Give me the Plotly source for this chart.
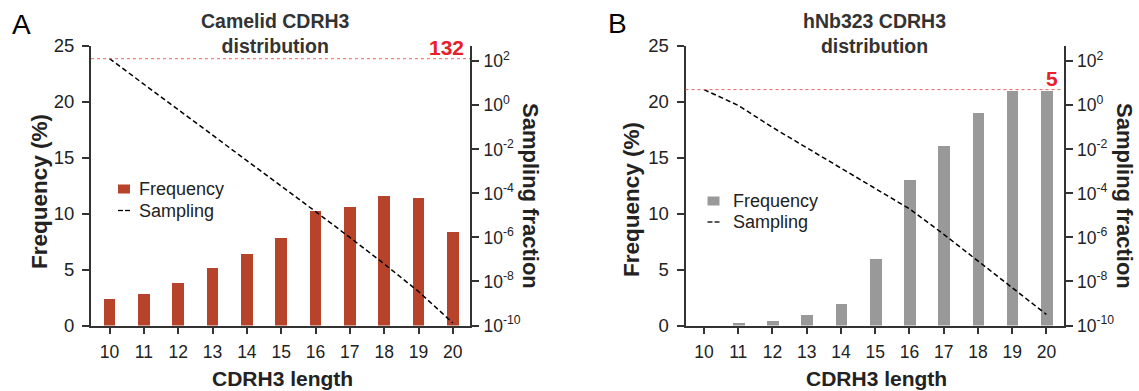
import math
import plotly.graph_objects as go

# ---------------- data ----------------
lengths = [10, 11, 12, 13, 14, 15, 16, 17, 18, 19, 20]

camelid_freq = [2.45, 2.9, 3.85, 5.18, 6.43, 7.9, 10.3, 10.65, 11.65, 11.42, 8.38]
camelid_sampling = [132, 9.3, 0.66, 0.046, 3.2e-3, 2.3e-4, 1.5e-5, 1.0e-6, 6.3e-8, 3.5e-9, 1.3e-10]

hnb_freq = [0.0, 0.27, 0.48, 0.98, 1.99, 5.96, 13.05, 16.05, 19.0, 21.02, 21.0]
hnb_sampling = [5.2, 1.0, 0.10, 0.012, 1.4e-3, 1.8e-4, 2.0e-5, 1.4e-6, 8.5e-8, 5.1e-9, 3.2e-10]

peak_labels = ["132", "5"]
panel_titles = ["Camelid CDRH3<br>distribution", "hNb323 CDRH3<br>distribution"]
panel_letters = ["A", "B"]

freq_ticks = [0, 5, 10, 15, 20, 25]
samp_tickvals = [1e2, 1e0, 1e-2, 1e-4, 1e-6, 1e-8, 1e-10]
samp_ticktext = ["10<sup>2</sup>", "10<sup>0</sup>", "10<sup>-2</sup>", "10<sup>-4</sup>",
                 "10<sup>-6</sup>", "10<sup>-8</sup>", "10<sup>-10</sup>"]

# ---------------- style ----------------
W, H = 1139, 391
FONT = "Liberation Sans, Arial, Helvetica, sans-serif"
AX = "#333333"
TXT = "#222222"
RED = "#e8202a"
BAR_COLORS = ["#b8432b", "#999999"]


def px(x):
    return x / W


def py(y):
    return 1 - y / H


# panel geometry in pixels (left axis, right axis)
panels = [(91, 470), (685.5, 1063.5)]
y_top, y_bot = 45.5, 325.5

fig = go.Figure()

datasets = [(camelid_freq, camelid_sampling), (hnb_freq, hnb_sampling)]
for i, (freq, samp) in enumerate(datasets):
    xa = "x" if i == 0 else "x2"
    ya_f = "y" if i == 0 else "y3"
    ya_s = "y2" if i == 0 else "y4"
    fig.add_trace(go.Bar(
        x=lengths, y=freq, xaxis=xa, yaxis=ya_f, width=0.34,
        marker=dict(color=BAR_COLORS[i], line=dict(width=0)),
        name="Frequency", showlegend=False,
    ))
    fig.add_trace(go.Scatter(
        x=lengths, y=samp, xaxis=xa, yaxis=ya_s, mode="lines",
        line=dict(color="black", width=1.5, dash="5px,3px"),
        name="Sampling", showlegend=False,
    ))

layout = dict(
    width=W, height=H,
    margin=dict(l=0, r=0, t=0, b=0, autoexpand=False),
    paper_bgcolor="white", plot_bgcolor="white",
    showlegend=False, bargap=0,
    font=dict(family=FONT, color=TXT, size=17),
)

for i, (xl, xr) in enumerate(panels):
    xn = "xaxis" if i == 0 else "xaxis2"
    yf = "yaxis" if i == 0 else "yaxis3"
    ys = "yaxis2" if i == 0 else "yaxis4"
    xref = "x" if i == 0 else "x2"
    yfref = "y" if i == 0 else "y3"
    layout[xn] = dict(
        domain=[px(xl), px(xr)], anchor=yfref, range=[9.46, 20.5],
        tickvals=lengths, ticks="outside", ticklen=6, tickwidth=1.5, tickcolor=AX,
        showline=True, linecolor=AX, linewidth=2, showgrid=False, zeroline=False,
        tickfont=dict(size=17.5, color=TXT), ticklabelstandoff=3, automargin=False,
    )
    layout[yf] = dict(
        domain=[py(y_bot), py(y_top)], anchor=xref, range=[0, 25],
        tickvals=freq_ticks, ticks="outside", ticklen=7, tickwidth=1.5, tickcolor=AX,
        showline=True, linecolor=AX, linewidth=2, showgrid=False, zeroline=False,
        tickfont=dict(size=18.5, color=TXT), ticklabelstandoff=4, automargin=False,
    )
    layout[ys] = dict(
        domain=[py(y_bot), py(y_top)], anchor=xref, overlaying=yfref, side="right",
        type="log", range=[-10, 2.72],
        tickvals=samp_tickvals, ticktext=samp_ticktext,
        ticks="outside", ticklen=7, tickwidth=1.5, tickcolor=AX,
        showline=True, linecolor=AX, linewidth=2, showgrid=False, zeroline=False,
        tickfont=dict(size=17.5, color=TXT), ticklabelstandoff=1, automargin=False,
    )

fig.update_layout(**layout)

shapes = []
annotations = []
legend_cfg = [
    # square center x, row1 y, row2 y, text start x
    (124, 189, 210.5, 137),
    (713.5, 201, 222, 730.5),
]
title_centers = [275, 874.5]
xtitle_centers = [282, 876]
ytitle_left_x = [39, 631]
ytitle_left_y = [192, 200]
ytitle_right_x = [531, 1125]
letter_pos = [(21, 25), (617, 23)]

for i, (xl, xr) in enumerate(panels):
    xd = "x domain" if i == 0 else "x2 domain"
    ysref = "y2" if i == 0 else "y4"
    samp = datasets[i][1]
    # red dotted reference line at the first sampling value
    shapes.append(dict(type="line", xref=xd, yref=ysref, x0=0, x1=1,
                       y0=samp[0], y1=samp[0],
                       line=dict(color="#f06060", width=1, dash="dot")))
    annotations.append(dict(xref=xd, yref=ysref, x=1, y=math.log10(samp[0]),
                            xanchor="right", yanchor="bottom", xshift=-4, yshift=-2,
                            text=f"<b>{peak_labels[i]}</b>", showarrow=False,
                            font=dict(size=21, color=RED, family=FONT)))
    # title
    annotations.append(dict(xref="paper", yref="paper", x=px(title_centers[i]), y=py(34),
                            xanchor="center", yanchor="middle",
                            text=f"<b>{panel_titles[i]}</b>", showarrow=False,
                            font=dict(size=19.5, color="#333333", family=FONT)))
    # panel letter
    annotations.append(dict(xref="paper", yref="paper", x=px(letter_pos[i][0]), y=py(letter_pos[i][1]),
                            xanchor="center", yanchor="middle", text=panel_letters[i], showarrow=False,
                            font=dict(size=28, color="black", family=FONT)))
    # axis titles
    annotations.append(dict(xref="paper", yref="paper", x=px(xtitle_centers[i]), y=py(378),
                            xanchor="center", yanchor="middle", text="<b>CDRH3 length</b>",
                            showarrow=False, font=dict(size=21, color=TXT, family=FONT)))
    annotations.append(dict(xref="paper", yref="paper", x=px(ytitle_left_x[i]), y=py(ytitle_left_y[i]),
                            xanchor="center", yanchor="middle", text="<b>Frequency (%)</b>",
                            textangle=-90, showarrow=False, font=dict(size=22.5, color=TXT, family=FONT)))
    annotations.append(dict(xref="paper", yref="paper", x=px(ytitle_right_x[i]), y=py(196),
                            xanchor="center", yanchor="middle", text="<b>Sampling fraction</b>",
                            textangle=90, showarrow=False, font=dict(size=22, color=TXT, family=FONT)))
    # legend
    sx, r1, r2, tx = legend_cfg[i]
    shapes.append(dict(type="rect", xref="paper", yref="paper",
                       x0=px(sx - 6), x1=px(sx + 6), y0=py(r1 + 4.5), y1=py(r1 - 4.5),
                       line=dict(width=0), fillcolor=BAR_COLORS[i]))
    for d0 in (sx - 6, sx + 1):
        shapes.append(dict(type="line", xref="paper", yref="paper",
                           x0=px(d0), x1=px(d0 + 5), y0=py(r2), y1=py(r2),
                           line=dict(color="black", width=1.3)))
    annotations.append(dict(xref="paper", yref="paper", x=px(tx), y=py(r1), xanchor="left",
                            yanchor="middle", text="Frequency", showarrow=False,
                            font=dict(size=18, color=TXT, family=FONT)))
    annotations.append(dict(xref="paper", yref="paper", x=px(tx), y=py(r2), xanchor="left",
                            yanchor="middle", text="Sampling", showarrow=False,
                            font=dict(size=18, color=TXT, family=FONT)))

fig.update_layout(shapes=shapes, annotations=annotations)
fig.write_html(
    "out.html",
    config={"displayModeBar": False},
    post_script="document.body.style.margin='0';document.body.style.overflow='hidden';",
)
